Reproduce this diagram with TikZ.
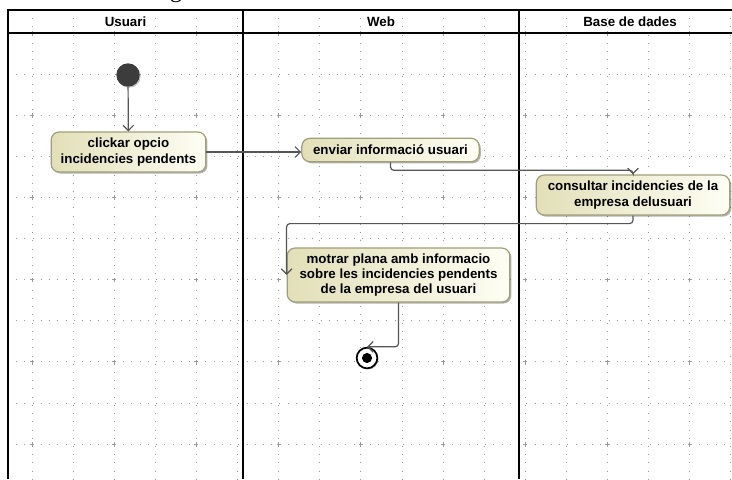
\documentclass[tikz,border=0pt]{standalone}
\usepackage{fontspec}
\setmainfont{Liberation Sans}
\newfontfamily\fragserif{Liberation Serif}
\usetikzlibrary{arrows.meta,shadows,calc}
\definecolor{actborder}{HTML}{A19F78}
\definecolor{actleft}{HTML}{E2DFB8}
\definecolor{actright}{HTML}{FEFEF4}
\definecolor{flowgray}{HTML}{555555}
\definecolor{gridgray}{HTML}{9A9A9A}
\definecolor{initgray}{HTML}{3C3C3C}
\begin{document}
\begin{tikzpicture}[x=0.75pt,y=-0.75pt,
  act/.style={draw=actborder, line width=0.9pt, rounded corners=6pt,
    left color=actleft, right color=actright, align=center,
    font=\fontsize{10}{11.5}\selectfont\bfseries, inner sep=0pt,
    drop shadow={shadow xshift=1.2pt, shadow yshift=-1.2pt, opacity=0.3, fill=black}},
  flow/.style={draw=flowgray, line width=0.9pt, rounded corners=2.5pt,
    -{Straight Barb[length=4pt,width=8pt]}},
  lane/.style={line width=2.2pt, draw=black},
  gridline/.style={draw=gridgray, line width=0.6pt, dash pattern=on 0.6pt off 5.57pt},
  lanetitle/.style={font=\fontsize{10}{12}\selectfont\bfseries}
]
\useasboundingbox (0,0) rectangle (732,479);
\fill[white] (0,0) rectangle (732,479);
% grid
\foreach \k in {0,...,17} \draw[gridline] ({32+41.1*\k},10) -- ({32+41.1*\k},479);
\foreach \k in {1,...,11} \draw[gridline] (8,{33+41.1*\k}) -- (732,{33+41.1*\k});
\foreach \i in {0,...,8} \foreach \j in {0,...,5}
  \draw[gridgray, line width=0.5pt] ({32+82.2*\i-2},{33+82.2*\j}) -- ++(4,0)
     ({32+82.2*\i},{33+82.2*\j-2}) -- ++(0,4);
% frame
\draw[lane] (8,479) -- (8,10) -- (733,10);
\draw[lane] (8,33) -- (733,33);
\draw[lane] (243,10) -- (243,479);
\draw[lane] (519,10) -- (519,479);
% fragment of text above the frame (cut off by the page edge)
\node[font=\fragserif\fontsize{18}{20}\selectfont, anchor=base, inner sep=0pt] (frag) at (176,-3) {g};
% lane titles
\node[lanetitle] (t1) at (125.5,21.5) {Usuari};
\node[lanetitle] (t2) at (381,21.5) {Web};
\node[lanetitle] (t3) at (630,21.5) {Base de dades};
% nodes
\node[circle, fill=initgray, minimum size=17.5pt, inner sep=0pt,
  drop shadow={shadow xshift=0.8pt, shadow yshift=-0.8pt, opacity=0.25, fill=black}] (init) at (128,75) {};
\node[act, minimum width=116pt, minimum height=30pt] (clickar) at (128.5,152) {clickar opcio\\incidencies pendents};
\node[act, minimum width=133pt, minimum height=17.5pt] (enviar) at (390.5,150) {enviar informació usuari};
\node[act, minimum width=145pt, minimum height=30pt] (consultar) at (633,195) {consultar incidencies de la\\empresa delusuari};
\node[act, minimum width=167pt, minimum height=40.5pt] (motrar) at (398.5,275) {motrar plana amb informacio\\sobre les incidencies pendents\\de la empresa del usuari};
\node[circle, draw=black, line width=1.3pt, fill=white, minimum size=15.5pt, inner sep=0pt,
  drop shadow={shadow xshift=0.8pt, shadow yshift=-0.8pt, opacity=0.3, fill=black}] (final) at (367,358) {};
\fill[black] (final.center) circle (3.8pt);
% connectors
\draw[flow] (init) -- (clickar);
\draw[flow] (clickar.east) -- (clickar.east -| enviar.west);
\draw[flow] (enviar.south) -- ++(0,8) -| (consultar.north);
\draw[flow] (consultar.south) -- ++(0,8) -| (motrar.west);
\draw[flow] (motrar.south) |- (final.north);
\end{tikzpicture}
\end{document}
